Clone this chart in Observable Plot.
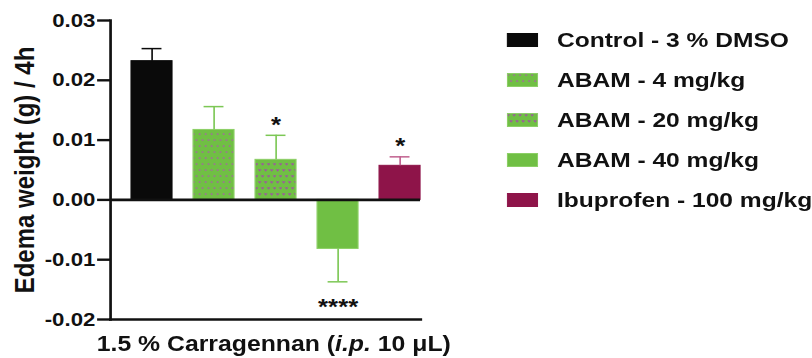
<!DOCTYPE html>
<html><head><meta charset="utf-8">
<script src="https://cdn.jsdelivr.net/npm/d3@7"></script>
<script src="https://cdn.jsdelivr.net/npm/@observablehq/plot@0.6"></script>
<style>
body{margin:0;background:#fff;font-family:"Liberation Sans",Arial,sans-serif;overflow:hidden;}
#wrap{position:relative;width:694px;height:358px;transform:scaleX(1.17);transform-origin:0 0;}
#chart{position:absolute;left:0;top:0;}
#legend{position:absolute;left:433px;top:20px;}
.row{display:flex;align-items:center;height:40px;font-weight:bold;font-size:21px;color:#111;white-space:nowrap;}
.row svg{margin-right:16px;display:block;}
</style></head><body><div id="wrap"><div id="chart"></div><div id="legend"></div></div>
<script>
const groups = ["Control - 3 % DMSO", "ABAM - 4 mg/kg", "ABAM - 20 mg/kg", "ABAM - 40 mg/kg", "Ibuprofen - 100 mg/kg"];
const means = [0.0232, 0.0117, 0.0067, -0.0082, 0.0057];
const sems = [0.0021, 0.0039, 0.0041, 0.0055, 0.0015];
const stars = ["", "", "*", "****", "*"];
const fills = ["#0a0a0a", "url(#dots)", "url(#hearts)", "#70bf44", "#8e1449"];
const edges = ["#0a0a0a", "#8ccf66", "#8ccf66", "#8ccf66", "#8e1449"];
const errColors = ["#0a0a0a", "#7cc755", "#7cc755", "#7cc755", "#c0608f"];
const yTicks = [-0.02, -0.01, 0, 0.01, 0.02, 0.03];
const yLabel = "Edema weight (g) / 4h";
const xLabel = "1.5 % Carragennan (i.p. 10 μL)";

const data = groups.map((g, i) => ({
  group: g, mean: means[i],
  err: means[i] + Math.sign(means[i]) * sems[i],
  star: stars[i], fill: fills[i], edge: edges[i], ec: errColors[i]
}));

const plot = Plot.plot({
  width: 380, height: 358,
  marginLeft: 94, marginRight: 21, marginTop: 20, marginBottom: 39,
  style: {fontFamily: '"Liberation Sans", Arial, sans-serif', fontWeight: "bold", color: "#111", background: "white", overflow: "visible"},
  x: {type: "band", domain: groups, paddingInner: 0.34, paddingOuter: 0.17, align: 1, axis: null},
  y: {domain: [-0.02, 0.03], axis: null},
  color: {type: "identity"},
  marks: [
    Plot.barY(data, {x: "group", y: "mean", fill: "fill", stroke: "edge", strokeWidth: 1}),
    Plot.ruleX(data, {x: "group", y1: "mean", y2: "err", stroke: "ec", strokeWidth: 1.4}),
    Plot.tickY(data, {x: "group", y: "err", stroke: "ec", strokeWidth: 1.5, inset: 9}),
    Plot.text(data.filter(d => d.star && d.mean > 0), {x: "group", y: "err", text: "star", fontSize: 22, fontWeight: "bold", dy: -10.5}),
    Plot.text(data.filter(d => d.star && d.mean < 0), {x: "group", y: "err", text: "star", fontSize: 22, fontWeight: "bold", dy: 25}),
    Plot.ruleY([0], {strokeWidth: 2.6, stroke: "#111"}),
    Plot.frame({anchor: "left", strokeWidth: 2.3, stroke: "#111"}),
    Plot.frame({anchor: "bottom", strokeWidth: 2.6, stroke: "#111"}),
    Plot.axisY({ticks: yTicks, tickFormat: d => d.toFixed(2), tickSize: 11, tickPadding: 2, label: null, strokeWidth: 2.4, stroke: "#111", fontSize: 19, fontWeight: "bold"}),
    Plot.text([yLabel], {frameAnchor: "left", textAnchor: "middle", rotate: -90, dx: -73, fontSize: 24}),
    Plot.text([xLabel], {frameAnchor: "bottom", dy: 31.5, dx: 7, fontSize: 21.2})
  ]
});

// pattern definitions
const svg = d3.select(plot);
const defs = svg.insert("defs", ":first-child");
const p1 = defs.append("pattern").attr("id", "dots").attr("patternUnits", "userSpaceOnUse").attr("width", 5.13).attr("height", 12);
p1.append("rect").attr("width", 5.13).attr("height", 12).attr("fill", "#70bf44");
p1.append("circle").attr("cx", 1.3).attr("cy", 2).attr("r", 0.85).attr("fill", "#a85fa8");
p1.append("circle").attr("cx", 3.85).attr("cy", 8).attr("r", 0.85).attr("fill", "#a85fa8");
const p2 = defs.append("pattern").attr("id", "hearts").attr("patternUnits", "userSpaceOnUse").attr("width", 5.13).attr("height", 12);
p2.append("rect").attr("width", 5.13).attr("height", 12).attr("fill", "#70bf44");
p2.append("path").attr("d", "M0.3,1.2 L1.3,2.8 L2.3,1.2 M2.85,7.2 L3.85,8.8 L4.85,7.2").attr("stroke", "#a050a5").attr("stroke-width", 1).attr("fill", "none");

// italic part of x label
svg.selectAll("text").filter(function() { return this.textContent === xLabel; }).each(function() {
  const t = d3.select(this);
  t.text(null);
  t.append("tspan").text("1.5 % Carragennan (");
  t.append("tspan").attr("font-style", "italic").text("i.p.");
  t.append("tspan").text(" 10 μL)");
});

document.getElementById("chart").appendChild(plot);

// legend
const legend = d3.select("#legend");
groups.forEach((g, i) => {
  const row = legend.append("div").attr("class", "row");
  const s = row.append("svg").attr("width", 27).attr("height", 14);
  s.append("rect").attr("x", 0.5).attr("y", 0.5).attr("width", 26).attr("height", 13).attr("fill", fills[i]).attr("stroke", edges[i]).attr("stroke-width", 1);
  row.append("span").text(g);
});
</script>
</body></html>
